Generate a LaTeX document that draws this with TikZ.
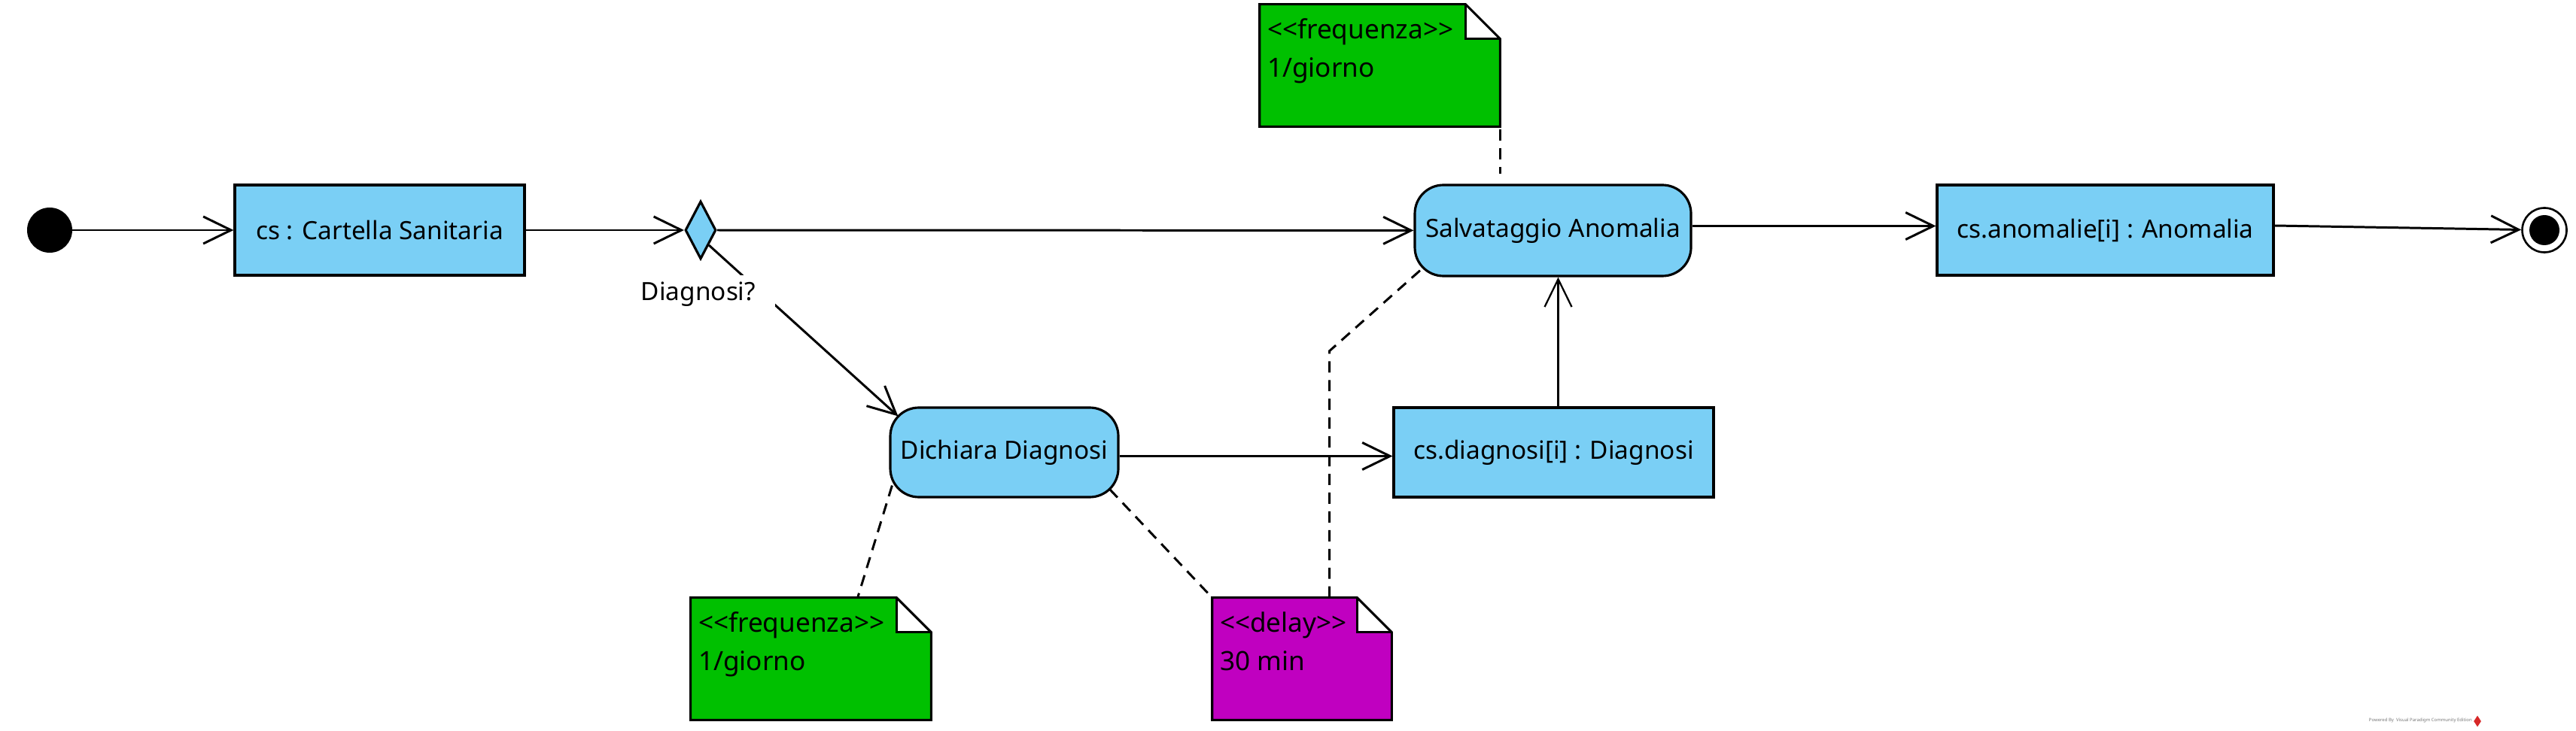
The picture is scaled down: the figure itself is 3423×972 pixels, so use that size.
\documentclass[tikz,border=0pt]{standalone}
\usepackage{fontspec}
\setmainfont{Noto Sans}
\usetikzlibrary{arrows.meta,shapes.geometric}
\newdimen\pxu \pxu=0.02cm
\definecolor{actblue}{RGB}{122,207,245}
\definecolor{notegreen}{RGB}{0,192,0}
\definecolor{notepurple}{RGB}{192,0,192}
\definecolor{wmgrey}{RGB}{120,120,120}
\definecolor{wmred}{RGB}{215,40,40}
\newcommand{\nodefont}{\fontsize{19pt}{23pt}\selectfont}
\newcommand{\notefont}{\fontsize{20pt}{24pt}\selectfont}
\newcommand{\dlt}{<\kern0pt<}
\newcommand{\dgt}{>\kern0pt>}
\newcommand{\drawnotebg}[2]{%
  \fill[#2] (#1.north west) -- ([xshift=-46\pxu]#1.north east) -- ([xshift=-46\pxu,yshift=-46\pxu]#1.north east) -- ([yshift=-46\pxu]#1.north east) -- (#1.south east) -- (#1.south west) -- cycle;
  \draw[boxline] (#1.north west) -- ([xshift=-46\pxu]#1.north east) -- ([yshift=-46\pxu]#1.north east) -- (#1.south east) -- (#1.south west) -- cycle;
  \draw[boxline] ([xshift=-46\pxu]#1.north east) -- ([xshift=-46\pxu,yshift=-46\pxu]#1.north east) -- ([yshift=-46\pxu]#1.north east);
}
\tikzset{
  boxline/.style={line width=1.8pt},
  objbox/.style={rectangle, draw, boxline, fill=actblue, font=\nodefont},
  actbox/.style={rectangle, rounded corners=38\pxu, draw, boxline, fill=actblue, font=\nodefont},
  flow/.style={line width=1.7pt, -{Straight Barb[length=21pt,width=20.5pt]}},
  link/.style={line width=1.7pt, dash pattern=on 8.5pt off 5.7pt},
  notebox/.style={rectangle, inner sep=0pt, minimum height=162\pxu},
  notetext/.style={anchor=base west, inner sep=0pt, font=\notefont},
}
\begin{document}
\begin{tikzpicture}[x=0.02cm, y=-0.02cm]
\useasboundingbox (0,0) rectangle (3423,972);

% nodes
\node[circle, fill=black, minimum size=60\pxu, inner sep=0pt] (init) at (66,306) {};
\node[objbox, minimum width=385\pxu, minimum height=120\pxu] (cart) at (504.5,306) {cs : Cartella Sanitaria};
\node[diamond, draw, boxline, fill=actblue, minimum width=41\pxu, minimum height=77\pxu, inner sep=0pt] (dec) at (931,306) {};
\node[actbox, minimum width=367\pxu, minimum height=121\pxu] (salv) at (2063.5,306.5) {Salvataggio Anomalia};
\node[objbox, minimum width=447\pxu, minimum height=120\pxu] (anom) at (2797.5,306) {cs.anomalie[i] : Anomalia};
\node[circle, draw, line width=1.5pt, fill=white, minimum size=59\pxu, inner sep=0pt] (final) at (3381,306) {};
\fill (final.center) circle (20);
\node[actbox, minimum width=303\pxu, minimum height=119\pxu] (dich) at (1334.5,601.5) {Dichiara Diagnosi};
\node[objbox, minimum width=425\pxu, minimum height=119\pxu] (diag) at (2064.5,601.5) {cs.diagnosi[i] : Diagnosi};

% notes
\node[notebox, minimum width=319\pxu] (note1) at (1833.5,87) {};
\drawnotebg{note1}{notegreen}
\node[notetext] (note1a) at ([xshift=10\pxu,yshift=-46\pxu]note1.north west) {\dlt frequenza\dgt};
\node[notetext] (note1b) at ([xshift=10\pxu,yshift=-97\pxu]note1.north west) {1/giorno};

\node[notebox, minimum width=319\pxu] (note2) at (1077.5,876) {};
\drawnotebg{note2}{notegreen}
\node[notetext] (note2a) at ([xshift=10\pxu,yshift=-46\pxu]note2.north west) {\dlt frequenza\dgt};
\node[notetext] (note2b) at ([xshift=10\pxu,yshift=-97\pxu]note2.north west) {1/giorno};

\node[notebox, minimum width=238\pxu] (note3) at (1730,876) {};
\drawnotebg{note3}{notepurple}
\node[notetext] (note3a) at ([xshift=10\pxu,yshift=-46\pxu]note3.north west) {\dlt delay\dgt};
\node[notetext] (note3b) at ([xshift=10\pxu,yshift=-97\pxu]note3.north west) {30 min};

% control flows
\draw[flow] (init) -- (cart);
\draw[flow] (cart) -- (dec);
\draw[flow] (dec) -- (salv);
\draw[flow] ([yshift=6\pxu]salv.east) -- ([yshift=6\pxu]salv.east -| anom.west);
\draw[flow] ([yshift=6\pxu]anom.east) -- (final);
\draw[flow] (dec.south east) -- ([xshift=12\pxu,yshift=-13\pxu]dich.north west);
\draw[flow] ([yshift=-5\pxu]dich.east) -- ([yshift=-5\pxu]dich.east -| diag.west);
\draw[flow, line width=1.3pt] ([xshift=6\pxu]diag.north) -- ([xshift=6\pxu]diag.north |- salv.south);

% note links
\draw[link] ([yshift=-4\pxu]note1.south east) -- ([yshift=13\pxu]salv.north -| note1.south east);
\draw[link] ([xshift=4\pxu,yshift=17\pxu]dich.south west) -- ([xshift=222\pxu]note2.north west);
\draw[link] ([xshift=-13\pxu,yshift=12\pxu]dich.south east) -- (note3.north west);
\draw[link] ([xshift=156\pxu]note3.north west) -- ++(0,-328) -- ([xshift=12\pxu,yshift=12\pxu]salv.south west);

% guard label
\node[fill=white, font=\nodefont, inner xsep=26\pxu, inner ysep=9\pxu] (declab) at (928,391) {Diagnosi?};

% watermark
\node[font=\fontsize{3.4pt}{4pt}\selectfont, text=wmgrey, anchor=east, inner sep=0pt] (wm) at (3285,958) {Powered By\ \ Visual Paradigm Community Edition};
\node[diamond, fill=wmred, minimum width=10\pxu, minimum height=15\pxu, inner sep=0pt] (wmlogo) at (3292,959) {};
\end{tikzpicture}
\end{document}
